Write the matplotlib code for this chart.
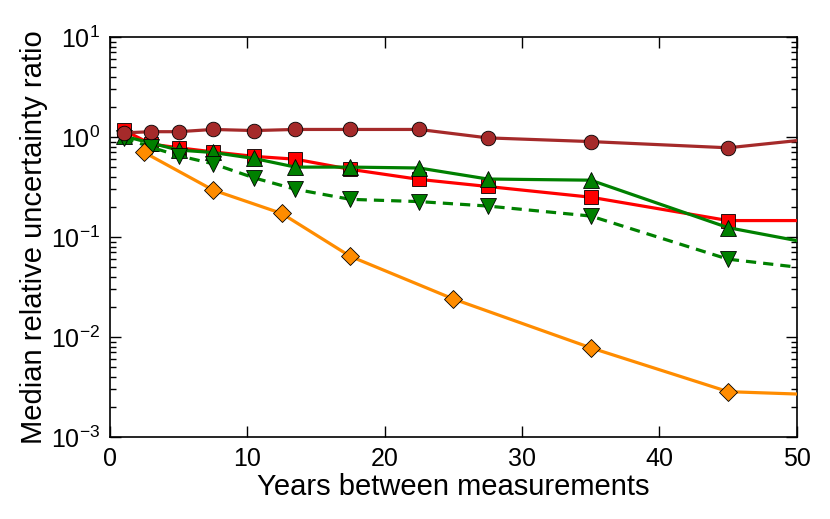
import numpy as np
import matplotlib
matplotlib.use('Agg')
import matplotlib.pyplot as plt
from matplotlib.ticker import LogLocator

plt.rcParams['font.family'] = ['Liberation Sans', 'DejaVu Sans']
plt.rcParams['mathtext.default'] = 'regular'
plt.rcParams['font.size'] = 18

# years between measurements
years = [1, 3, 5, 7.5, 10.5, 13.5, 17.5, 22.5, 27.5, 35, 45, 50]
years_orange = [2.5, 7.5, 12.5, 17.5, 25, 35, 45, 50]

# median relative uncertainty ratio
brown_vals = [1.10, 1.13, 1.13, 1.19, 1.16, 1.19, 1.19, 1.19, 0.98, 0.90, 0.78, 0.92]
red_vals = [1.17, 0.85, 0.78, 0.71, 0.64, 0.60, 0.475, 0.377, 0.32, 0.25, 0.146, 0.146]
green_up_vals = [1.02, 0.87, 0.74, 0.70, 0.61, 0.50, 0.50, 0.49, 0.38, 0.37, 0.124, 0.092]
green_dn_vals = [0.98, 0.79, 0.65, 0.54, 0.39, 0.30, 0.238, 0.226, 0.204, 0.162, 0.060, 0.050]
orange_vals = [0.70, 0.295, 0.172, 0.064, 0.024, 0.0078, 0.00284, 0.00269]


def marks(x):
    # last point sits on the right edge without a marker
    return list(range(len(x) - 1))


fig = plt.figure(figsize=(8.3, 5.19), dpi=100)
ax = fig.add_axes([0.1325, 0.158, 0.8275, 0.7707])

lw = 2.3
ax.plot(years, red_vals, '-', color='red', lw=lw, marker='s', ms=10,
        mec='k', mew=0.6, markevery=marks(years), zorder=3)
ax.plot(years, green_up_vals, '-', color='green', lw=lw, marker='^', ms=11,
        mec='k', mew=0.6, markevery=marks(years), zorder=4)
ax.plot(years, green_dn_vals, '--', color='green', lw=lw, marker='v', ms=11,
        mec='k', mew=0.6, markevery=marks(years), dashes=(3.2, 2.2), zorder=4)
ax.plot(years_orange, orange_vals, '-', color='darkorange', lw=lw, marker='D',
        ms=9.5, mec='k', mew=0.6, markevery=marks(years_orange), zorder=5)
ax.plot(years, brown_vals, '-', color='brown', lw=lw, marker='o', ms=10.5,
        mec='k', mew=0.6, markevery=marks(years), zorder=6)

ax.set_yscale('log')
ax.set_xlim(0, 50)
ax.set_ylim(1e-3, 1e1)
ax.set_xticks([0, 10, 20, 30, 40, 50])
ax.yaxis.set_major_locator(LogLocator(base=10))
ax.yaxis.set_minor_locator(LogLocator(base=10, subs=np.arange(2, 10)))

ax.tick_params(which='both', direction='in', top=True, right=True)
ax.tick_params(which='major', length=8, width=1, pad=7)
ax.tick_params(which='minor', length=4, width=1)
ax.tick_params(axis='x', which='minor', bottom=False, top=False)
for s in ax.spines.values():
    s.set_linewidth(1.2)

ax.set_xlabel('Years between measurements', fontsize=21, labelpad=2)
ax.set_ylabel('Median relative uncertainty ratio', fontsize=21, labelpad=2)

fig.savefig('out.png', dpi=100)
